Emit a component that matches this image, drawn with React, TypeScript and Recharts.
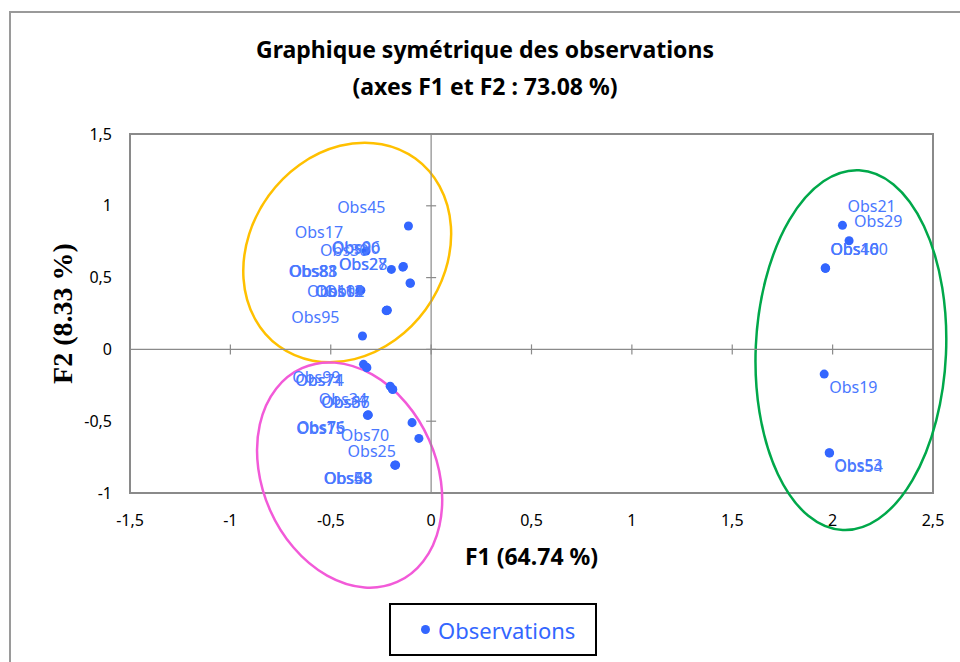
import {
  ScatterChart,
  Scatter,
  XAxis,
  YAxis,
  ReferenceArea,
  ReferenceLine,
  ReferenceDot,
  Legend,
  Label
} from 'recharts';

// axes (F1, F2)
const xTicks = [-1.5, -1, -0.5, 0, 0.5, 1, 1.5, 2, 2.5];
const yTicks = [-1, -0.5, 0, 0.5, 1, 1.5];

// coordonnées des observations sur F1 / F2
const observations = [
  { name: 'Obs45', x: -0.113, y: 0.859 },
  { name: 'Obs17', x: -0.324, y: 0.685 },
  { name: 'Obs30', x: -0.198, y: 0.557 },
  { name: 'Obs90', x: -0.141, y: 0.573 },
  { name: 'Obs96', x: -0.138, y: 0.578 },
  { name: 'Obs27', x: -0.105, y: 0.462 },
  { name: 'Obs28', x: -0.103, y: 0.46 },
  { name: 'Obs88', x: -0.352, y: 0.411 },
  { name: 'Obs81', x: -0.35, y: 0.412 },
  { name: 'Obs83', x: -0.355, y: 0.41 },
  { name: 'Obs102', x: -0.218, y: 0.273 },
  { name: 'Obs1', x: -0.221, y: 0.272 },
  { name: 'Obs14', x: -0.221, y: 0.272 },
  { name: 'Obs12', x: -0.224, y: 0.27 },
  { name: 'Obs95', x: -0.342, y: 0.093 },
  { name: 'Obs99', x: -0.337, y: -0.104 },
  { name: 'Obs74', x: -0.32, y: -0.127 },
  { name: 'Obs71', x: -0.322, y: -0.125 },
  { name: 'Obs34', x: -0.204, y: -0.256 },
  { name: 'Obs36', x: -0.191, y: -0.279 },
  { name: 'Obs67', x: -0.193, y: -0.277 },
  { name: 'Obs75', x: -0.315, y: -0.458 },
  { name: 'Obs76', x: -0.313, y: -0.456 },
  { name: 'Obs15', x: -0.317, y: -0.459 },
  { name: 'Obs70', x: -0.095, y: -0.51 },
  { name: 'Obs25', x: -0.061, y: -0.62 },
  { name: 'Obs48', x: -0.179, y: -0.806 },
  { name: 'Obs58', x: -0.181, y: -0.806 },
  { name: 'Obs68', x: -0.177, y: -0.805 },
  { name: 'Obs21', x: 2.049, y: 0.864 },
  { name: 'Obs29', x: 2.082, y: 0.757 },
  { name: 'Obs46', x: 1.963, y: 0.566 },
  { name: 'Obs10', x: 1.965, y: 0.565 },
  { name: 'Obs100', x: 1.964, y: 0.567 },
  { name: 'Obs19', x: 1.958, y: -0.172 },
  { name: 'Obs53', x: 1.983, y: -0.72 },
  { name: 'Obs54', x: 1.985, y: -0.721 }
];

// groupes entourés (centre, demi-axes en unités des axes, inclinaison en degrés)
const groups = [
  { id: 'haut-gauche', cx: -0.418, cy: 0.675, rx: 0.483, ry: 0.808, tilt: 36 },
  { id: 'bas-gauche', cx: -0.406, cy: -0.875, rx: 0.433, ry: 0.815, tilt: -24 },
  { id: 'droite', cx: 2.091, cy: -0.005, rx: 0.474, ry: 1.254, tilt: 2.6 }
];

const GROUP_COLORS: Record<string, string> = {
  'haut-gauche': '#ffc000',
  'bas-gauche': '#f25ad8',
  droite: '#00a84a'
};

const BLUE = '#3366ff';
const AXIS_GREY = '#8a8a8a';
const SANS = '"Noto Sans", sans-serif';

const fmt = (v: number) => String(v).replace('.', ',');

const renderPointLabel = (props: any) => {
  const { cx, cy, payload } = props;
  if (cx == null || cy == null) return null;
  const right = payload.x >= 0;
  const above = payload.y >= 0;
  return (
    <text
      x={right ? cx + 5 : cx - 23}
      y={above ? cy - 19 : cy + 13}
      dy="0.35em"
      textAnchor={right ? 'start' : 'end'}
      fontSize={16}
      fontFamily={SANS}
      fill="#4a78ff"
    >
      {payload.name}
    </text>
  );
};

const renderLegend = () => (
  <div
    style={{
      boxSizing: 'border-box',
      width: '100%',
      height: '100%',
      border: '2px solid #000',
      background: '#fff',
      display: 'flex',
      alignItems: 'center',
      paddingLeft: 30
    }}
  >
    <span
      style={{
        display: 'inline-block',
        width: 9,
        height: 9,
        borderRadius: '50%',
        background: BLUE,
        marginRight: 8
      }}
    />
    <span style={{ fontFamily: SANS, fontSize: 22, color: BLUE }}>Observations</span>
  </div>
);

export default function App() {
  return (
    <div style={{ position: 'absolute', left: 0, top: 0, width: 960, height: 662, background: '#fff', overflow: 'hidden' }}>
      <div
        style={{
          position: 'absolute',
          left: 9,
          top: 11,
          width: 1000,
          height: 700,
          border: '2px solid #9a9a9a'
        }}
      />
      <div
        style={{
          position: 'absolute',
          left: 5,
          top: 31,
          width: 960,
          textAlign: 'center',
          fontFamily: SANS,
          fontWeight: 700,
          fontSize: 23,
          lineHeight: '37px',
          color: '#000'
        }}
      >
        <div>Graphique symétrique des observations</div>
        <div>(axes F1 et F2 : 73.08 %)</div>
      </div>
      <ScatterChart
        width={960}
        height={662}
        margin={{ top: 134, right: 27, bottom: 139, left: 70 }}
        style={{ position: 'absolute', left: 0, top: 0 }}
      >
        <XAxis
          type="number"
          dataKey="x"
          domain={[-1.5, 2.5]}
          ticks={xTicks}
          interval={0}
          allowDataOverflow
          tickFormatter={fmt}
          axisLine={false}
          tickLine={false}
          tickSize={0}
          tickMargin={22}
          height={30}
          tick={{ fontSize: 16, fontFamily: SANS, fill: '#000' }}
        >
          <Label
            content={({ viewBox }: any) => (
              <text
                x={viewBox.x + viewBox.width / 2}
                y={556}
                textAnchor="middle"
                dominantBaseline="central"
                fontFamily={SANS}
                fontWeight={700}
                fontSize={23}
                fill="#000"
              >
                F1 (64.74 %)
              </text>
            )}
          />
        </XAxis>
        <YAxis
          type="number"
          dataKey="y"
          domain={[-1, 1.5]}
          ticks={yTicks}
          interval={0}
          allowDataOverflow
          tickFormatter={fmt}
          axisLine={false}
          tickLine={false}
          tickSize={0}
          tickMargin={18}
          width={60}
          tick={{ fontSize: 16, fontFamily: SANS, fill: '#000' }}
        >
          <Label
            content={({ viewBox }: any) => {
              const x = viewBox.x - 8;
              const y = viewBox.y + viewBox.height / 2;
              return (
                <text
                  x={x}
                  y={y}
                  transform={`rotate(-90 ${x} ${y})`}
                  textAnchor="middle"
                  dominantBaseline="central"
                  fontFamily='"Liberation Serif", serif'
                  fontWeight={700}
                  fontSize={28}
                  fill="#000"
                >
                  F2 (8.33 %)
                </text>
              );
            }}
          />
        </YAxis>

        <ReferenceArea
          x1={-1.5}
          x2={2.5}
          y1={-1}
          y2={1.5}
          fill="none"
          fillOpacity={0}
          stroke={AXIS_GREY}
          strokeWidth={2}
          ifOverflow="visible"
        />
        <ReferenceLine x={0} stroke={AXIS_GREY} strokeWidth={1.2} />
        <ReferenceLine y={0} stroke={AXIS_GREY} strokeWidth={1.2} />
        {xTicks.map((t) => (
          <ReferenceDot
            key={`xt${t}`}
            x={t}
            y={0}
            ifOverflow="visible"
            shape={(p: any) => (
              <line x1={p.cx} x2={p.cx} y1={p.cy - 5} y2={p.cy + 5} stroke={AXIS_GREY} strokeWidth={1.2} />
            )}
          />
        ))}
        {yTicks.map((t) => (
          <ReferenceDot
            key={`yt${t}`}
            x={0}
            y={t}
            ifOverflow="visible"
            shape={(p: any) => (
              <line x1={p.cx - 5} x2={p.cx + 5} y1={p.cy} y2={p.cy} stroke={AXIS_GREY} strokeWidth={1.2} />
            )}
          />
        ))}

        <Scatter
          name="Observations"
          data={observations}
          fill={BLUE}
          isAnimationActive={false}
        />
        <Scatter
          name="labels"
          data={observations}
          legendType="none"
          shape={renderPointLabel}
          isAnimationActive={false}
        />

        {groups.map((g) => (
          <ReferenceArea
            key={g.id}
            x1={g.cx - g.rx}
            x2={g.cx + g.rx}
            y1={g.cy - g.ry}
            y2={g.cy + g.ry}
            ifOverflow="visible"
            shape={(p: any) => {
              const cx = p.x + p.width / 2;
              const cy = p.y + p.height / 2;
              return (
                <ellipse
                  cx={cx}
                  cy={cy}
                  rx={Math.abs(p.width) / 2}
                  ry={Math.abs(p.height) / 2}
                  transform={`rotate(${g.tilt} ${cx} ${cy})`}
                  fill="none"
                  stroke={GROUP_COLORS[g.id]}
                  strokeWidth={2.5}
                />
              );
            }}
          />
        ))}

        <Legend
          layout="vertical"
          align="center"
          verticalAlign="middle"
          wrapperStyle={{ left: 389, top: 603, width: 208, height: 53 }}
          content={renderLegend}
        />
      </ScatterChart>
    </div>
  );
}
